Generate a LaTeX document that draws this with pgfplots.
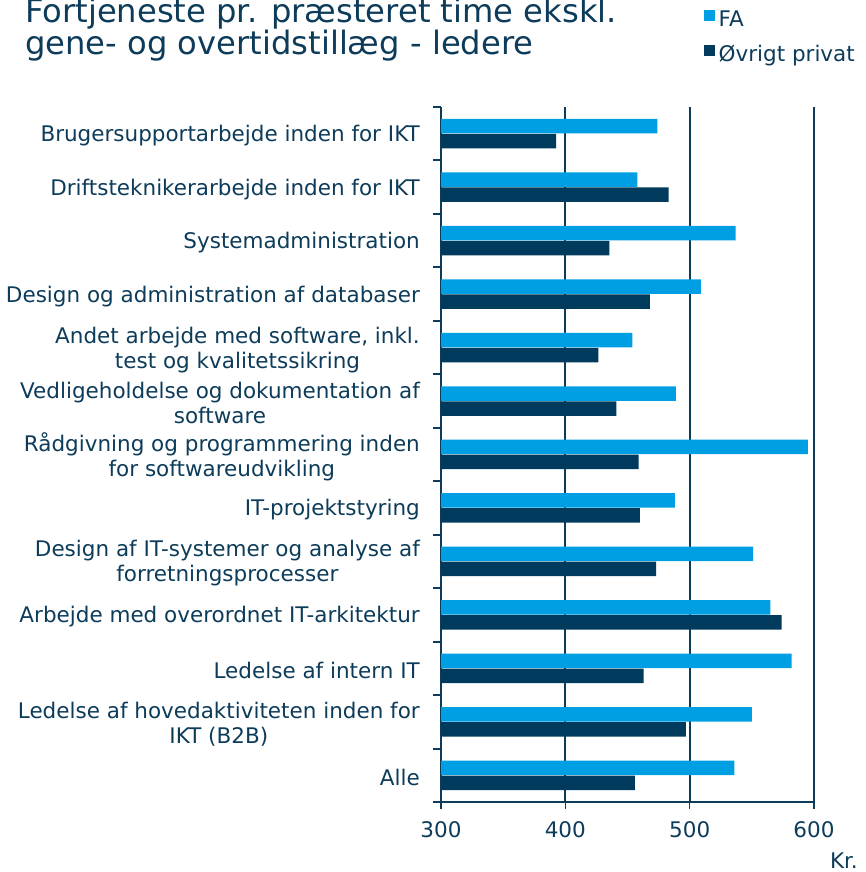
\documentclass[border=0pt]{standalone}
\usepackage{pgfplots}
\pgfplotsset{compat=1.18}
\usepackage{fontspec}
\setmainfont{DejaVu Sans}
\definecolor{fa}{HTML}{009FE3}
\definecolor{ovr}{HTML}{003A5C}
\definecolor{txt}{HTML}{0D3C5A}
\begin{document}
\begin{tikzpicture}[x=1pt,y=1pt]
\useasboundingbox (0,0) rectangle (865,872);
\node[anchor=base west, inner sep=0, text=txt, font=\fontsize{32.2}{36}\selectfont] at (25,849.3) {Fortjeneste pr. præsteret time ekskl.};
\node[anchor=base west, inner sep=0, text=txt, font=\fontsize{32.2}{36}\selectfont] at (25,817) {gene- og overtidstillæg - ledere};
\begin{axis}[
  at={(441pt,70pt)}, anchor=south west,
  scale only axis, width=373pt, height=695pt,
  xmin=300, xmax=600, ymin=-0.5, ymax=12.5,
  xtick={300,400,500,600},
  ytick={0,...,12},
  yticklabels={{Alle},
    {Ledelse af hovedaktiviteten inden for\\IKT (B2B)},
    {Ledelse af intern IT},
    {Arbejde med overordnet IT-arkitektur},
    {Design af IT-systemer og analyse af\\forretningsprocesser},
    {IT-projektstyring},
    {Rådgivning og programmering inden\\for softwareudvikling},
    {Vedligeholdelse og dokumentation af\\software},
    {Andet arbejde med software, inkl.\\test og kvalitetssikring},
    {Design og administration af databaser},
    {Systemadministration},
    {Driftsteknikerarbejde inden for IKT},
    {Brugersupportarbejde inden for IKT}},
  minor ytick={-0.5,0.5,...,12.5},
  axis lines*=left,
  axis line style={txt, line width=2pt},
  xmajorgrids,
  major x grid style={txt, line width=2pt},
  tick align=outside,
  major tick length=7pt, minor tick length=8pt,
  major y tick style={draw=none},
  minor y tick style={txt, line width=2pt},
  major x tick style={txt, line width=1.5pt},
  /pgf/number format/assume math mode=true,
  ticklabel style={font=\fontsize{21.5}{25}\selectfont, text=txt},
  yticklabel style={align=center, anchor=east, inner sep=0pt, xshift=-14pt, yshift=-2pt},
  xticklabel style={anchor=north, inner sep=0pt, yshift=-12pt},
  xbar, bar width=14.5pt,
  legend style={at={(0.705,1.141)}, anchor=north west, draw=none, fill=none,
    font=\fontsize{21.5}{25}\selectfont, text=txt, row sep=11pt, inner sep=0pt, column sep=2pt,
    nodes={inner sep=1.5pt, text height=16pt, text depth=5pt}},
  legend cell align=left,
  legend image code/.code={\fill[#1] (0pt,0.5pt) rectangle (11pt,11pt);},
]
\addplot[fill=fa, draw=none, bar shift=7.5pt] coordinates {
  (536,0) (550,1) (582,2) (565,3) (551,4) (488,5) (595,6) (489,7) (454,8) (509,9) (537,10) (458,11) (474,12)};
\addplot[fill=ovr, draw=none, bar shift=-7.5pt] coordinates {
  (456,0) (497,1) (463,2) (574,3) (473,4) (460,5) (459,6) (441,7) (426.5,8) (468,9) (435.5,10) (483,11) (392.5,12)};
\legend{FA, Øvrigt privat}
\end{axis}
\node[anchor=base east, inner sep=0, text=txt, font=\fontsize{21.5}{25}\selectfont] at (858,4) {Kr.};
\end{tikzpicture}
\end{document}
